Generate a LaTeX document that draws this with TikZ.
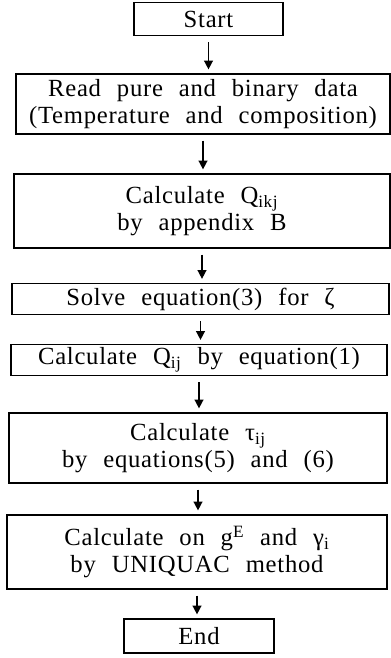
\documentclass[tikz,border=0pt]{standalone}
\usepackage{fontspec}
\setmainfont{Liberation Serif}[WordSpace=2.3,LetterSpace=3]
\usetikzlibrary{arrows.meta}
\begin{document}
\begin{tikzpicture}[x=0.75pt,y=-0.75pt,
    box/.style={draw,line width=0.9pt,align=center,inner sep=0pt,
      font=\fontsize{18.5}{20}\selectfont},
    flow/.style={line width=1.1pt,-{Triangle[width=6.5pt,length=6.5pt]},
      shorten <=4.5pt,shorten >=3pt}]
  \useasboundingbox (0,0) rectangle (391,658);
  \node[box,minimum width=111.75pt,minimum height=24.75pt] (start) at (208.5,19) {Start};
  \node[box,minimum width=280.5pt,minimum height=45pt] (read) at (203,104)
    {Read pure and binary data\\(Temperature and composition)};
  \node[box,minimum width=282pt,minimum height=55.5pt] (qikj) at (202,211)
    {Calculate Q\textsubscript{ikj}\\by appendix B};
  \node[box,minimum width=282.75pt,minimum height=23.25pt] (solve) at (200.5,299)
    {Solve equation(3) for ζ};
  \node[box,minimum width=282pt,minimum height=23.25pt] (qij) at (199,360)
    {Calculate Q\textsubscript{ij} by equation(1)};
  \node[box,minimum width=283.5pt,minimum height=52.5pt] (tau) at (198,448)
    {Calculate τ\textsubscript{ij}\\by equations(5) and (6)};
  \node[box,minimum width=285pt,minimum height=55.5pt] (gamma) at (197,552)
    {Calculate on g\textsuperscript{E} and γ\textsubscript{i}\\by UNIQUAC method};
  \node[box,minimum width=112.5pt,minimum height=25.5pt] (end) at (199,636) {End};
  % arrows
  \draw[flow] (start.south) -- (start.south |- read.north);
  \draw[flow] (read.south) -- (read.south |- qikj.north);
  \draw[flow] (qikj.south) -- (qikj.south |- solve.north);
  \draw[flow] (solve.south) -- (solve.south |- qij.north);
  \draw[flow] (qij.south) -- (qij.south |- tau.north);
  \draw[flow] (tau.south) -- (tau.south |- gamma.north);
  \draw[flow] (gamma.south) -- (gamma.south |- end.north);
\end{tikzpicture}
\end{document}
